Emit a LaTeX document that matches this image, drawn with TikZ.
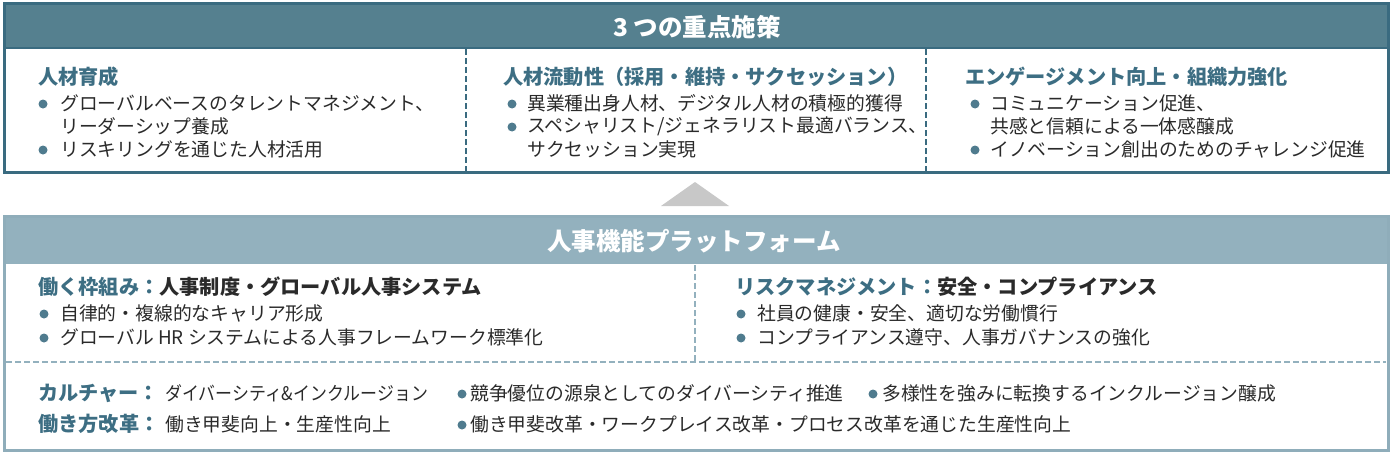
\documentclass[tikz,border=0pt]{standalone}
\usepackage{fontspec}
\setmainfont{Noto Sans CJK JP}
\definecolor{topborder}{HTML}{3A6B80}
\definecolor{tophead}{HTML}{55808F}
\definecolor{headtext}{HTML}{3D6E83}
\definecolor{botborder}{HTML}{8FADBA}
\definecolor{bothead}{HTML}{93B1BE}
\definecolor{dotcol}{HTML}{4F7B8E}
\definecolor{bodytext}{HTML}{2A2A2A}
\definecolor{tri}{HTML}{C8C8C8}
\begin{document}
\begin{tikzpicture}[x=1pt,y=-1pt,
  title/.style={font=\fontsize{24.5}{28}\selectfont\bfseries, text=white, inner sep=0pt},
  colhead/.style={font=\fontsize{20.2}{24}\selectfont\bfseries, text=headtext, anchor=west, inner sep=0pt},
  body/.style={font=\fontsize{18.8}{22}\selectfont, text=bodytext, anchor=west, inner sep=0pt},
  bdot/.style={circle, fill=dotcol, inner sep=0pt, minimum size=9pt},
  topdash/.style={draw=topborder, line width=1.8pt, dash pattern=on 6pt off 3pt},
  botdash/.style={draw=bothead, line width=1.8pt, dash pattern=on 6pt off 3pt}]
\useasboundingbox (0,0) rectangle (1392,452);
% ---------- top box ----------
\fill[tophead] (4,4) rectangle (1388,48);
\draw[topborder, line width=3pt] (4,4) rectangle (1388,172);
\draw[topborder, line width=2pt] (4,48) -- (1388,48);
\draw[topdash] (466,49) -- (466,171);
\draw[topdash] (926,49) -- (926,171);
\node[title] (t1) at (697,27) {3 つの重点施策};
% col 1
\node[colhead] (h1) at (38,77) {人材育成};
\node[bdot] (d11) at (43,104) {};
\node[body] (b11) at (60,103) {グローバルベースのタレントマネジメント、};
\node[body] (b12) at (60,126) {リーダーシップ養成};
\node[bdot] (d13) at (43,150) {};
\node[body] (b13) at (60,149) {リスキリングを通じた人材活用};
% col 2
\node[colhead] (h2) at (503,77) {人材流動性（採用・維持・サクセッション）};
\node[bdot] (d21) at (512,104) {};
\node[body] (b21) at (527,103) {異業種出身人材、デジタル人材の積極的獲得};
\node[bdot] (d22) at (512,127) {};
\node[body] (b22) at (527,126) {スペシャリスト/ジェネラリスト最適バランス、};
\node[body] (b23) at (527,149) {サクセッション実現};
% col 3
\node[colhead] (h3) at (965,77) {エンゲージメント向上・組織力強化};
\node[bdot] (d31) at (975,104) {};
\node[body] (b31) at (990,103) {コミュニケーション促進、};
\node[body] (b32) at (990,126) {共感と信頼による一体感醸成};
\node[bdot] (d33) at (975,150) {};
\node[body] (b33) at (990,149) {イノベーション創出のためのチャレンジ促進};
% ---------- triangle ----------
\fill[tri] (661,206) -- (695,182) -- (729,206) -- cycle;
% ---------- bottom box ----------
\fill[bothead] (4,216) rectangle (1388,264);
\draw[botborder, line width=3pt] (4,216) rectangle (1388,450);
\node[title] (t2) at (694,241) {人事機能プラットフォーム};
\draw[botdash] (695,265) -- (695,361);
\draw[botdash] (6,362) -- (1386,362);
% left
\node[colhead] (h4) at (38,287) {働く枠組み：\textcolor{bodytext}{人事制度・グローバル人事システム}};
\node[bdot] (d41) at (44,314) {};
\node[body] (b41) at (60,313) {自律的・複線的なキャリア形成};
\node[bdot] (d42) at (44,338) {};
\node[body] (b42) at (60,337) {グローバル HR システムによる人事フレームワーク標準化};
% right
\node[colhead] (h5) at (735,287) {リスクマネジメント：\textcolor{bodytext}{安全・コンプライアンス}};
\node[bdot] (d51) at (741,314) {};
\node[body] (b51) at (757,313) {社員の健康・安全、適切な労働慣行};
\node[bdot] (d52) at (741,338) {};
\node[body] (b52) at (757,337) {コンプライアンス遵守、人事ガバナンスの強化};
% bottom rows
\node[colhead] (h6) at (38,393) {カルチャー：};
\node[body] (b61) at (165,393) {\scalebox{0.9}[1]{ダイバーシティ\&インクルージョン}};
\node[bdot] (d62) at (462,394) {};
\node[body] (b62) at (470,393) {競争優位の源泉としてのダイバーシティ推進};
\node[bdot] (d63) at (873,394) {};
\node[body] (b63) at (882,393) {多様性を強みに転換するインクルージョン醸成};
\node[colhead] (h7) at (38,424) {働き方改革：};
\node[body] (b71) at (165,424) {働き甲斐向上・生産性向上};
\node[bdot] (d72) at (462,425) {};
\node[body] (b72) at (470,424) {働き甲斐改革・ワークプレイス改革・プロセス改革を通じた生産性向上};
\end{tikzpicture}
\end{document}
